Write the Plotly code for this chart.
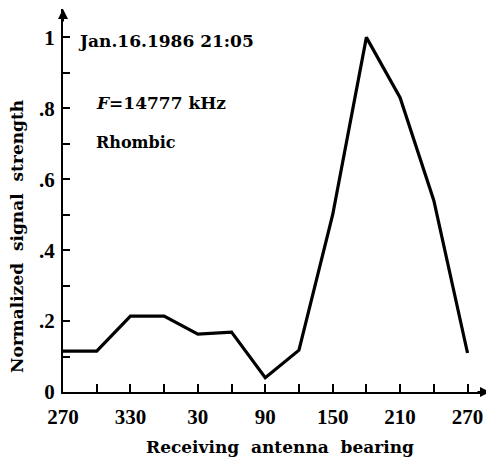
import plotly.graph_objects as go

bearing_labels = ["270", "300", "330", "0", "30", "60", "90", "120", "150", "180", "210", "240", "270"]
bearing_unwrapped = [270, 300, 330, 360, 390, 420, 450, 480, 510, 540, 570, 600, 630]
signal = [0.115, 0.115, 0.214, 0.214, 0.163, 0.169, 0.04, 0.118, 0.50, 1.0, 0.83, 0.54, 0.11]

xtick_vals = [270, 330, 390, 450, 510, 570, 630]
xtick_text = ["270", "330", "30", "90", "150", "210", "270"]
xminor_vals = [300, 360, 420, 480, 540, 600]
ytick_vals = [0, 0.2, 0.4, 0.6, 0.8, 1.0]
ytick_text = ["0", ".2", ".4", ".6", ".8", "1"]
yminor_vals = [0.1, 0.3, 0.5, 0.7, 0.9]

TICKFONT = "Liberation Serif"
TEXTFONT = "DejaVu Serif"
NB = "\u00a0"

X0, X1 = 270, 650
Y0, Y1 = 0, 1.08
# the page body has an 8px margin, so the figure is drawn 8px in from the top-left
W, H = 486, 456
L, R, T, B = 55, 4, 1, 72
PW, PH = W - L - R, H - T - B

fig = go.Figure()
fig.add_trace(go.Scatter(
    x=bearing_unwrapped, y=signal, mode="lines",
    line=dict(color="black", width=3.2), hoverinfo="skip", showlegend=False,
))

fig.update_layout(
    width=W, height=H,
    margin=dict(l=L, r=R, t=T, b=B, autoexpand=False),
    paper_bgcolor="white", plot_bgcolor="white",
    font=dict(family=TEXTFONT, color="black", size=16),
    xaxis=dict(
        range=[X0, X1], showgrid=False, zeroline=False, automargin=False,
        showline=True, linecolor="black", linewidth=2,
        tickmode="array", tickvals=xtick_vals, ticktext=xtick_text,
        ticks="inside", ticklen=8, tickwidth=2, tickcolor="black",
        ticklabelstandoff=5,
        minor=dict(tickmode="array", tickvals=xminor_vals,
                   ticks="inside", ticklen=8, tickwidth=2, tickcolor="black"),
        tickfont=dict(family=TICKFONT, size=21, color="black", weight="bold"),
    ),
    yaxis=dict(
        range=[Y0, Y1], showgrid=False, zeroline=False, automargin=False,
        showline=True, linecolor="black", linewidth=2,
        tickmode="array", tickvals=ytick_vals, ticktext=ytick_text,
        ticks="inside", ticklen=7, tickwidth=2, tickcolor="black",
        ticklabelstandoff=2,
        minor=dict(tickmode="array", tickvals=yminor_vals,
                   ticks="inside", ticklen=7, tickwidth=2, tickcolor="black"),
        tickfont=dict(family=TICKFONT, size=21, color="black", weight="bold"),
    ),
    annotations=[
        dict(xref="paper", yref="paper", x=(272 - L) / PW, y=0, yshift=-55,
             xanchor="center", yanchor="middle",
             text=f"Receiving{NB}{NB}antenna{NB}{NB}bearing", showarrow=False,
             font=dict(family=TEXTFONT, size=17, color="black", weight="bold")),
        dict(xref="paper", yref="paper", x=0, xshift=-46, y=(392 - 237) / 383,
             xanchor="center", yanchor="middle", textangle=-90,
             text=f"Normalized{NB}{NB}signal{NB}{NB}strength", showarrow=False,
             font=dict(family=TEXTFONT, size=17, color="black", weight="bold")),
        dict(xref="paper", yref="paper", x=13 / PW, y=0.99 / Y1, xanchor="left", yanchor="middle",
             text="Jan.16.1986 21:05", showarrow=False,
             font=dict(family=TEXTFONT, size=17, color="black", weight="bold")),
        dict(xref="paper", yref="paper", x=31 / PW, y=0.814 / Y1, xanchor="left", yanchor="middle",
             text="<i>F</i>=14777 kHz", showarrow=False,
             font=dict(family=TEXTFONT, size=17, color="black", weight="bold")),
        dict(xref="paper", yref="paper", x=31 / PW, y=0.704 / Y1, xanchor="left", yanchor="middle",
             text="Rhombic", showarrow=False,
             font=dict(family=TEXTFONT, size=16, color="black", weight="bold")),
        dict(xref="paper", yref="paper", x=1.0, y=0, ax=-14, ay=0, text="",
             showarrow=True, arrowhead=2, arrowsize=1, arrowwidth=2, arrowcolor="black"),
        dict(xref="paper", yref="paper", x=0, y=1.0, ax=0, ay=14, text="",
             showarrow=True, arrowhead=2, arrowsize=1, arrowwidth=2, arrowcolor="black"),
    ],
)

fig.write_html("out.html")
